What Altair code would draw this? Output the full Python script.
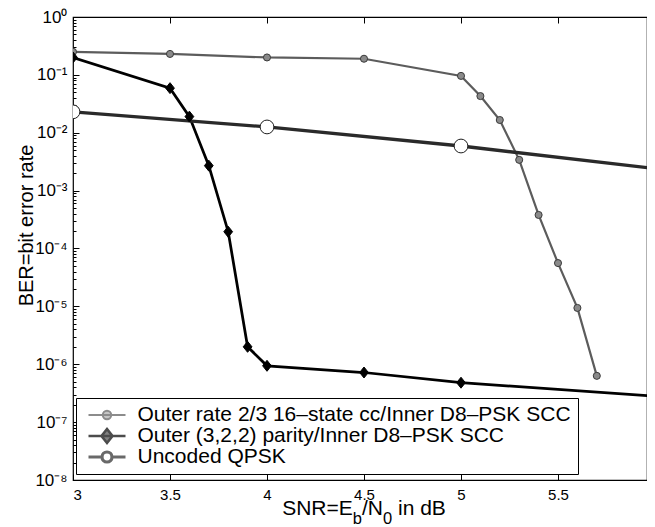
import altair as alt
import pandas as pd

# ---------------- data ----------------
series_names = [
    "Outer rate 2/3 16–state cc/Inner D8–PSK SCC",
    "Outer (3,2,2) parity/Inner D8–PSK SCC",
    "Uncoded QPSK",
]
snr_cc = [3.0, 3.5, 4.0, 4.5, 5.0, 5.1, 5.2, 5.3, 5.4, 5.5, 5.6, 5.7]
ber_cc = [0.25, 0.23, 0.20, 0.19, 0.096, 0.043, 0.0166, 0.0034, 3.8e-4, 5.6e-5, 9.4e-6, 6.3e-7]

snr_parity = [3.0, 3.5, 3.6, 3.7, 3.8, 3.9, 4.0, 4.5, 5.0, 6.0]
ber_parity = [0.20, 0.059, 0.019, 0.0027, 1.95e-4, 2.0e-6, 9.4e-7, 7.2e-7, 4.8e-7, 2.8e-7]

snr_uncoded = [3.0, 4.0, 5.0, 6.0]
ber_uncoded = [0.023, 0.0126, 0.0059, 0.0024]

x_ticks = [3, 3.5, 4, 4.5, 5, 5.5]
y_decades = [10.0 ** -k for k in range(0, 9)]
y_minor = [m * 10.0 ** e for e in range(-8, 0) for m in range(2, 10)]

y_title = "BER=bit error rate"
x_title_parts = ["SNR=E", "b", "/N", "0", " in dB"]

rows = []
for name, xs, ys in zip(series_names, [snr_cc, snr_parity, snr_uncoded],
                        [ber_cc, ber_parity, ber_uncoded]):
    for i, (a, b) in enumerate(zip(xs, ys)):
        rows.append({"series": name, "snr": a, "ber": b, "idx": i})
df = pd.DataFrame(rows)
names_df = pd.DataFrame({"series": series_names})

# ---------------- styling ----------------
FONT = "Liberation Sans"
PX_PER_DB = 194.0
W, H = 574, 463           # the reference is cropped just before x = 6
x_max = 3 + W / PX_PER_DB

x_scale = alt.Scale(domain=[3, x_max], nice=False, zero=False)
y_scale = alt.Scale(type="log", domain=[1e-8, 1], nice=False)

sup = {"0": "⁰", "1": "¹", "2": "²", "3": "³", "4": "⁴", "5": "⁵",
       "6": "⁶", "7": "⁷", "8": "⁸", "9": "⁹", "-": "⁻"}
expo = "round(log(datum.value)/LN10)"
label_expr = "''"
for k in range(0, 9):
    e = -k
    txt = "10" + "".join(sup[c] for c in str(e))
    label_expr = f"({expo} == {e} ? '{txt}' : {label_expr})"

dom = series_names
line_color = ["#5c5c5c", "#000000", "#2a2a2a"]
line_width = [2.2, 3.3, 2.0]
mk_fill = ["#8a8a8a", "#000000", "#ffffff"]
mk_stroke = ["#3a3a3a", "#000000", "#1e1e1e"]
mk_size = [50, 190, 55]
mk_sw = [1.0, 1.0, 1.8]
mk_shape = ["circle", "M0,-1L0.8,0L0,1L-0.8,0Z", "circle"]

leg_shape = [
    "M-1.85,0H1.85M-0.42,0A0.42,0.42,0,1,0,0.42,0A0.42,0.42,0,1,0,-0.42,0Z",
    "M-1.85,0H1.85M0,-0.7L0.55,0L0,0.7L-0.55,0Z",
    "M-1.85,0H-0.5M0.5,0H1.85M-0.5,0A0.5,0.5,0,1,0,0.5,0A0.5,0.5,0,1,0,-0.5,0Z",
]
leg_fill = ["#8a8a8a", "#000000", "#ffffff"]
leg_stroke = ["#5c5c5c", "#000000", "#2a2a2a"]
leg_sw = [2.0, 3.2, 2.0]

base = alt.Chart(df)

x_main = alt.X("snr:Q", scale=x_scale, axis=alt.Axis(
    orient="bottom", values=x_ticks, format="~g", offset=-6, tickSize=6,
    domain=False, grid=False, labelFont=FONT, labelFontSize=15, labelPadding=7,
    labelColor="black", tickColor="black", title=None))
y_main = alt.Y("ber:Q", scale=y_scale, axis=alt.Axis(
    orient="left", values=y_decades, labelExpr=label_expr, offset=-6, tickSize=6,
    domain=False, grid=False, labelFont=FONT, labelFontSize=17, labelPadding=6,
    labelColor="black", tickColor="black",
    title=y_title, titleFont=FONT, titleFontSize=20, titleFontWeight="normal",
    titleColor="black", titleAngle=270, titleX=-53, titleY=208,
    titleAlign="center", titleBaseline="middle"))

lines = base.mark_line(clip=True).encode(
    x=x_main, y=y_main,
    detail="series:N", order="idx:Q",
    stroke=alt.Stroke("series:N", scale=alt.Scale(domain=dom, range=line_color), legend=None),
    strokeWidth=alt.StrokeWidth("series:N", scale=alt.Scale(domain=dom, range=line_width), legend=None),
)

points = base.mark_point(filled=True, clip=True, opacity=1).encode(
    x=alt.X("snr:Q", scale=x_scale, axis=None),
    y=alt.Y("ber:Q", scale=y_scale, axis=None),
    shape=alt.Shape("series:N", scale=alt.Scale(domain=dom, range=mk_shape), legend=None),
    fill=alt.Fill("series:N", scale=alt.Scale(domain=dom, range=mk_fill), legend=None),
    stroke=alt.Stroke("series:N", scale=alt.Scale(domain=dom, range=mk_stroke), legend=None),
    size=alt.Size("series:N", scale=alt.Scale(domain=dom, range=mk_size), legend=None),
    strokeWidth=alt.StrokeWidth("series:N", scale=alt.Scale(domain=dom, range=mk_sw), legend=None),
)

helper = base.mark_point(opacity=0).encode(
    x=alt.X("snr:Q", scale=x_scale, axis=alt.Axis(
        orient="top", values=x_ticks, offset=-6, tickSize=6, labels=False,
        domain=False, grid=False, tickColor="black", title=None)),
    y=alt.Y("ber:Q", scale=y_scale, axis=alt.Axis(
        orient="left", values=y_minor, offset=-3, tickSize=3, labels=False,
        domain=False, grid=False, tickColor="black", title=None)),
)

leg = alt.Legend(
    title=None, orient="none", legendX=3, legendY=381, direction="vertical",
    labelFont=FONT, labelFontSize=21, labelColor="black", labelLimit=800,
    labelOffset=18.5, symbolSize=400, rowPadding=0, clipHeight=20, padding=7,
    strokeColor="black", fillColor="white", symbolOffset=12,
)
legend_layer = alt.Chart(names_df).transform_filter("false").mark_point(filled=True).encode(
    shape=alt.Shape("series:N", scale=alt.Scale(domain=dom, range=leg_shape), legend=leg),
    fill=alt.Fill("series:N", scale=alt.Scale(domain=dom, range=leg_fill), legend=leg),
    stroke=alt.Stroke("series:N", scale=alt.Scale(domain=dom, range=leg_stroke), legend=leg),
    strokeWidth=alt.StrokeWidth("series:N", scale=alt.Scale(domain=dom, range=leg_sw), legend=leg),
)

# x-axis title with subscripts (Arial/Helvetica metrics), centred on the x = 3..6 span
main_fs, sub_fs = 21, 16.5
adv = {"S": 667, "N": 722, "R": 722, "=": 584, "E": 667, "b": 556, "/": 278,
       "0": 556, " ": 278, "i": 222, "n": 556, "d": 556, "B": 667}
sizes = [main_fs, sub_fs, main_fs, sub_fs, main_fs]
widths = [sum(adv[c] for c in t) * s / 1000 for t, s in zip(x_title_parts, sizes)]
centre = 1.5 * PX_PER_DB
start = centre - sum(widths) / 2
base_main, base_sub = 498, 507
title_layers = []
xpos = start
for t, s, w in zip(x_title_parts, sizes, widths):
    lead = len(t) - len(t.lstrip(" "))
    shown = t.lstrip(" ")
    title_layers.append(
        alt.Chart(alt.Data(values=[{}])).mark_text(
            text=shown, align="left", baseline="alphabetic", font=FONT, fontSize=s,
            color="black").encode(
            x=alt.value(xpos + lead * adv[" "] * s / 1000),
            y=alt.value(base_main if s == main_fs else base_sub))
    )
    xpos += w

chart = alt.layer(lines, points, helper, legend_layer, *title_layers).resolve_scale(
    shape="independent", fill="independent", stroke="independent",
    strokeWidth="independent", size="independent",
).resolve_axis(x="independent", y="independent").properties(
    width=W, height=H,
    autosize=alt.AutoSizeParams(type="none"),
    padding={"left": 65, "top": 9, "right": 0, "bottom": 50},
    background="white",
).configure_view(stroke="black", strokeWidth=1.2)

chart.save("out.html", embed_options={"renderer": "svg", "actions": False})
